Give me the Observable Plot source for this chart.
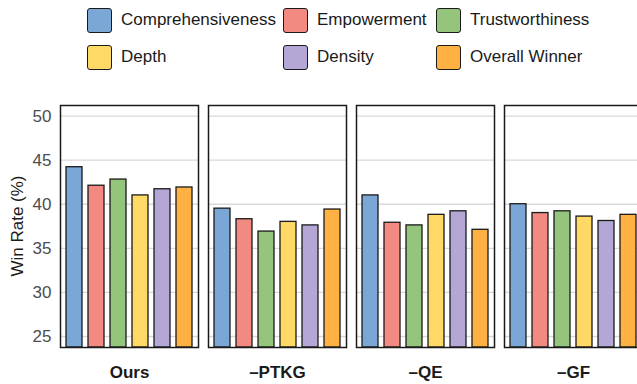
<!DOCTYPE html>
<html>
<head>
<meta charset="utf-8">
<script src="https://cdn.jsdelivr.net/npm/d3@7"></script>
<script src="https://cdn.jsdelivr.net/npm/@observablehq/plot@0.6"></script>
<style>
  html, body { margin: 0; padding: 0; background: #fff; }
  body { width: 637px; height: 384px; overflow: hidden; position: relative; font-family: "Liberation Sans", Arial, sans-serif; }
  #legend { position: absolute; left: 0; top: 0; width: 637px; height: 85px; }
  .item { position: absolute; display: flex; align-items: center; height: 26px; }
  .sw { width: 23px; height: 23px; border: 1.5px solid #1a1a1a; border-radius: 3px; box-sizing: content-box; margin-right: 9px; }
  .lab { font-size: 17px; color: #1a1a1a; white-space: nowrap; }
  #chart { position: absolute; left: 0; top: 85px; width: 646px; }
  #chart svg { max-width: none !important; width: 646px; height: 299px; }
  #ylab { position: absolute; left: 18px; top: 226px; transform: translate(-50%, -50%) rotate(-90deg); font-size: 17px; color: #1a1a1a; white-space: nowrap; }
</style>
</head>
<body>
<div id="legend"></div>
<div id="chart"></div>
<div id="ylab">Win Rate (%)</div>
<script>
const variants = ["Ours", "\u2013PTKG", "\u2013QE", "\u2013GF"];
const metrics = ["Comprehensiveness", "Empowerment", "Trustworthiness", "Depth", "Density", "Overall Winner"];
const colors = ["#7BA7D7", "#F28A81", "#95C47D", "#FFD966", "#B4A7D6", "#FFB143"];
const oursValues = [44.2, 42.1, 42.8, 41.0, 41.7, 41.9];
const ptkgValues = [39.5, 38.3, 36.9, 38.0, 37.6, 39.4];
const qeValues   = [41.0, 37.9, 37.6, 38.8, 39.2, 37.1];
const gfValues   = [40.0, 39.0, 39.2, 38.6, 38.1, 38.8];
const yTicks = [25, 30, 35, 40, 45, 50];
const yDomain = [23.75, 51.2];

const series = [oursValues, ptkgValues, qeValues, gfValues];
const data = [];
variants.forEach((v, i) => metrics.forEach((m, j) => data.push({variant: v, metric: m, value: series[i][j]})));

// Legend (HTML)
const legend = document.getElementById("legend");
const colX = [87, 283, 436];
const rowY = [7, 44];
metrics.forEach((m, i) => {
  const d = document.createElement("div");
  d.className = "item";
  d.style.left = colX[i % 3] + "px";
  d.style.top = rowY[Math.floor(i / 3)] + "px";
  d.innerHTML = `<div class="sw" style="background:${colors[i]}"></div><div class="lab">${m}</div>`;
  legend.appendChild(d);
});

const plot = Plot.plot({
  width: 646,
  height: 299,
  marginLeft: 60,
  marginRight: 4,
  marginTop: 20,
  marginBottom: 37,
  style: {fontFamily: "Liberation Sans, Arial, sans-serif", background: "transparent", maxWidth: "none"},
  fx: {domain: variants, paddingInner: 0.0676, paddingOuter: 0},
  x: {domain: metrics, paddingInner: 0.29, paddingOuter: 0.19, axis: null},
  y: {domain: yDomain},
  color: {domain: metrics, range: colors},
  marks: [
    Plot.gridY(yTicks, {stroke: "#d9d9d9", strokeOpacity: 1, strokeWidth: 1.3}),
    Plot.barY(data, {fx: "variant", x: "metric", y1: yDomain[0], y2: "value", fill: "metric", stroke: "#1a1a1a", strokeWidth: 1.3}),
    Plot.frame({stroke: "#1a1a1a", strokeWidth: 1.5}),
    Plot.axisY(yTicks, {tickSize: 0, tickPadding: 9, fontSize: 17, fill: "#4d4d4d", label: null}),
    Plot.axisFx({anchor: "bottom", tickSize: 0, tickPadding: 18, fontSize: 17, fontWeight: "bold", fill: "#1a1a1a", label: null})
  ]
});
document.getElementById("chart").appendChild(plot);
</script>
</body>
</html>
